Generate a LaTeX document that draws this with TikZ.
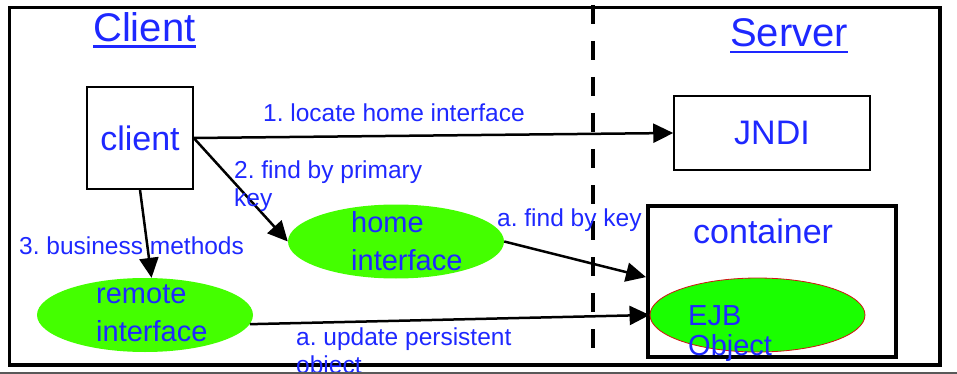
\documentclass[tikz,border=0pt]{standalone}
\usepackage{fontspec}
\setmainfont{Liberation Sans}
\frenchspacing
\usetikzlibrary{arrows.meta,shapes.geometric}
\definecolor{txtblue}{RGB}{30,40,255}
\definecolor{limegreen}{RGB}{68,255,0}
\definecolor{ejbgreen}{RGB}{26,255,0}
\definecolor{ejbred}{RGB}{210,20,20}

\begin{document}
\begin{tikzpicture}[x=1pt,y=-1pt,
  % two-line texts are placed by the baseline of their last line
  txt/.style={text=txtblue, inner sep=0, anchor=base west},
  header/.style={txt, font=\fontsize{40}{48}\selectfont},
  big/.style={txt, font=\fontsize{34}{40}\selectfont},
  elltext/.style={txt, font=\fontsize{29}{37.5}\selectfont, align=left},
  lbl/.style={txt, font=\fontsize{24.5}{28}\selectfont, align=left},
  thinbox/.style={draw, line width=1.5pt, inner sep=0, text=txtblue,
                  font=\fontsize{34}{40}\selectfont},
  bubble/.style={ellipse, fill=limegreen, inner sep=0,
                 minimum width=216pt, minimum height=74pt},
  conn/.style={line width=2.5pt, -{Triangle[length=20pt,width=19pt]}},
  uline/.style={txtblue, line width=2.5pt},
]
\useasboundingbox (0,0) rectangle (957,374);

% outer frame and the client/server divider
\draw[line width=3.5pt] (9.5,7.5) rectangle (940,365);
\draw[line width=3.5pt, dash pattern=on 19pt off 17pt] (593,5) -- (593,365);

% headers
\node[header] (hclient) at (93,42) {Client};
\node[header] (hserver) at (730,47) {Server};
\draw[uline] ([yshift=-4.5pt]hclient.base west) -- ([yshift=-4.5pt]hclient.base east);
\draw[uline] ([yshift=-5pt]hserver.base west) -- ([yshift=-5pt]hserver.base east);

% boxes
\node[thinbox, minimum width=106pt, minimum height=102pt] (client) at (140,138) {client};
\node[thinbox, minimum width=196pt, minimum height=74pt] (jndi) at (772,133) {JNDI};
\node[draw, line width=4pt, inner sep=0, minimum width=248pt, minimum height=151pt]
  (container) at (772,281.5) {};
\node[big] (contlbl) at (693,243) {container};

% ellipses
\node[bubble] (home) at (396,241.5) {};
\node[bubble] (remote) at (145,315) {};
\node[ellipse, fill=ejbgreen, draw=ejbred, line width=0.8pt, inner sep=0,
      minimum width=215pt, minimum height=74pt] (ejb) at (757.5,315) {};

\node[elltext] (hometxt) at (351,270) {home\\interface};
\node[elltext] (remotetxt) at (96,341) {remote\\interface};
\node[txt, font=\fontsize{29}{30}\selectfont, align=left] (ejbtxt) at (688,355) {EJB\\Object};

% connectors
\draw[conn] (client.east) -- (jndi.west);
\draw[conn] (client.east) -- (home.west);
\draw[conn] (client.south) -- (remote.80);
\draw[conn] (home.east) -- (container.178);
\draw[conn] (remote.-5) -- (ejb.west);

% connector labels
\node[lbl] (l1) at (263,122) {1. locate home interface};
\node[lbl] (l2) at (234,206) {2. find by primary\\key};
\node[lbl] (l3) at (19,254) {3. business methods};
\node[lbl] (l4) at (497,226) {a. find by key};
\node[lbl] (l5) at (296,373) {a. update persistent\\object};

% page edge rule
\draw[black!65, line width=2pt] (0,373) -- (957,373);
\end{tikzpicture}
\end{document}
